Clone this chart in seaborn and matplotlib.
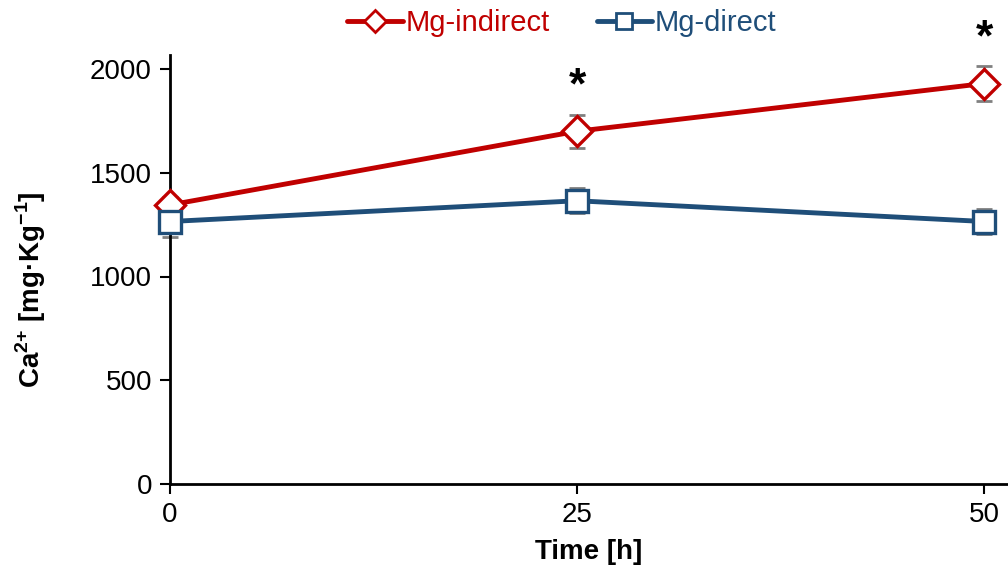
import numpy as np
import pandas as pd
import matplotlib
matplotlib.use("Agg")
import matplotlib.pyplot as plt
import seaborn as sns
from matplotlib.lines import Line2D

# Ca2+ content over time for two Mg treatments (mean ± SD)
time_h = [0, 25, 50]
mg_indirect = [1345, 1700, 1930]
mg_indirect_err = [40, 80, 85]
mg_direct = [1265, 1365, 1265]
mg_direct_err = [75, 60, 58]
series_names = ["Mg-indirect", "Mg-direct"]
significant_times = [25, 50]
y_ticks = [0, 500, 1000, 1500, 2000]
x_ticks = [0, 25, 50]

df = pd.DataFrame({
    "Time": time_h * 2,
    "Ca": mg_indirect + mg_direct,
    "err": mg_indirect_err + mg_direct_err,
    "Series": [series_names[0]] * 3 + [series_names[1]] * 3,
})

sns.set_style("white")
plt.rcParams["font.family"] = ["Liberation Sans", "DejaVu Sans"]
plt.rcParams["mathtext.fontset"] = "custom"
plt.rcParams["mathtext.rm"] = "Liberation Sans"
plt.rcParams["mathtext.bf"] = "Liberation Sans:bold"

colors = {"Mg-indirect": "#C00000", "Mg-direct": "#1F4E79"}
markers = {"Mg-indirect": "D", "Mg-direct": "s"}
msizes = {"Mg-indirect": 15, "Mg-direct": 16}

fig = plt.figure(figsize=(10.08, 5.7), dpi=100)
ax = fig.add_axes([170 / 1008, 1 - 484 / 570, (1008 - 170) / 1008, (484 - 55) / 570])

# grey error bars with caps
for name in series_names:
    sub = df[df["Series"] == name]
    ax.errorbar(sub["Time"], sub["Ca"], yerr=sub["err"], fmt="none",
                ecolor="#808080", elinewidth=2, capsize=6, capthick=2, zorder=2)

# one seaborn line per series, white-filled markers
for name in series_names:
    sub = df[df["Series"] == name]
    sns.lineplot(data=sub, x="Time", y="Ca", color=colors[name], marker=markers[name],
                 ax=ax, linewidth=3.5, markersize=msizes[name],
                 markerfacecolor="white", markeredgecolor=colors[name],
                 markeredgewidth=2.4, zorder=3, legend=False)
for ln in ax.lines:
    ln.set_clip_on(False)

ax.set_xlim(0, (1008 - 170) / (814 / 50))
ax.set_ylim(0, (484 - 55) / 0.2075)
ax.set_xticks(x_ticks)
ax.set_yticks(y_ticks)
ax.tick_params(axis="both", which="both", direction="out", length=7, width=1.5,
               labelsize=20, left=True, bottom=True, colors="black", pad=6)
for side in ["top", "right"]:
    ax.spines[side].set_visible(False)
for side in ["left", "bottom"]:
    ax.spines[side].set_color("black")
    ax.spines[side].set_linewidth(2)

ax.set_xlabel("Time [h]", fontsize=20, fontweight="bold", labelpad=8, color="black")
ax.set_ylabel(r"Ca$^{\mathbf{2{+}}}$ [mg·Kg$^{\mathbf{{-}1}}$]", fontsize=20,
              fontweight="bold", color="black")
ax.yaxis.set_label_coords(-0.145, 0.452)

# significance markers
sig_y = {25: 1915, 50: 2145}
for t in significant_times:
    ax.text(t, sig_y[t], "*", ha="center", va="center", fontsize=32,
            fontweight="bold", color="black", clip_on=False)

# legend above the plot
handles = [Line2D([], [], color=colors[n], marker=markers[n], markersize=11,
                  markerfacecolor="white", markeredgecolor=colors[n],
                  markeredgewidth=2, linewidth=3.5) for n in series_names]
leg = fig.legend(handles, series_names, loc="upper center",
                 bbox_to_anchor=(562 / 1008, 1.03), ncol=2, frameon=False,
                 fontsize=21, handlelength=1.9, columnspacing=1.6, handletextpad=0.1)
for txt, n in zip(leg.get_texts(), series_names):
    txt.set_color(colors[n])

fig.savefig("out.png", dpi=100)
